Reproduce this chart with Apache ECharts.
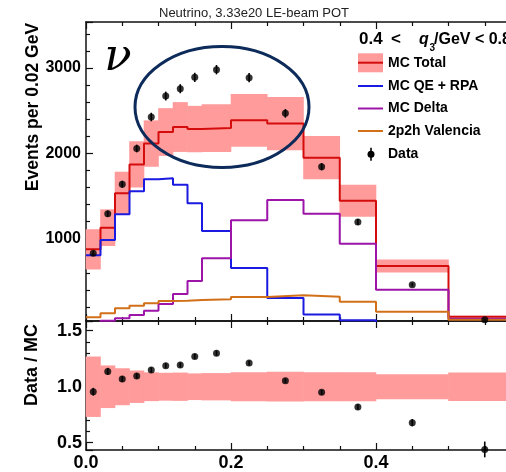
<!DOCTYPE html>
<html><head><meta charset="utf-8">
<script src="https://cdn.jsdelivr.net/npm/echarts@6/dist/echarts.min.js"></script>
<style>html,body{margin:0;padding:0;background:#fff}#c{width:506px;height:472px}</style>
</head><body><div id="c"></div>
<script>
// ---- data ----
const binEdges = [0, 0.02, 0.04, 0.06, 0.08, 0.10, 0.12, 0.14, 0.16, 0.20, 0.25, 0.30, 0.35, 0.40, 0.50, 0.60];
const mcTotal  = [875, 1129, 1532, 1871, 2115, 2250, 2309, 2285, 2297, 2387, 2350, 1950, 1445, 680, 86];
const mcErr    = [236, 215, 253, 271, 272, 280, 292, 272, 280, 308, 312, 254, 188, 76, 11];
const mcQE     = [805, 984, 1285, 1555, 1696, 1707, 1633, 1414, 1090, 656, 305, 112, 43, 0, 0];
const mcDelta  = [10, 39, 67, 105, 156, 234, 352, 504, 770, 1215, 1453, 1293, 941, 402, 62];
const mc2p2h   = [78, 125, 184, 215, 242, 270, 273, 280, 289, 316, 336, 320, 261, 144, 50];
const dataVals = [828, 1292, 1638, 2057, 2426, 2672, 2758, 2891, 2981, 2887, 2469, 1844, 1195, 461, 50];
const dataErr  = [30, 36, 40, 45, 50, 52, 53, 54, 55, 54, 50, 43, 35, 22, 8];
const ratioVals = [0.955, 1.137, 1.069, 1.096, 1.149, 1.188, 1.194, 1.271, 1.30, 1.212, 1.054, 0.95, 0.819, 0.679, 0.44];
const xTickLabels = ['0.0', '0.2', '0.4', '0.6'];
const titleText = 'Neutrino, 3.33e20 LE-beam POT';
const legendNames = ['MC Total', 'MC QE + RPA', 'MC Delta', '2p2h Valencia', 'Data'];

// ---- styles ----
const FONT = 'Liberation Sans';
const RED = '#d40c0c', PINK = '#ff9b9b', BLUE = '#1a1ae0', PURPLE = '#9c14a8', ORANGE = '#d2701a', NAVY = '#0d2b5a';
const AX = '#111';

const n = mcTotal.length;
const centers = [];
for (let i = 0; i < n; i++) centers.push((binEdges[i] + binEdges[i + 1]) / 2);

function stepData(vals) {
  const d = [];
  for (let i = 0; i < vals.length; i++) d.push([binEdges[i], vals[i]]);
  d.push([binEdges[vals.length], vals[vals.length - 1]]);
  return d;
}
const bandTop = [], bandRatio = [];
for (let i = 0; i < n; i++) {
  bandTop.push([binEdges[i], binEdges[i + 1], mcTotal[i] - mcErr[i], mcTotal[i] + mcErr[i]]);
  const rel = mcErr[i] / mcTotal[i];
  bandRatio.push([binEdges[i], binEdges[i + 1], 1 - rel, 1 + rel]);
}
const pts = [], ptsErr = [], rpts = [], rptsErr = [];
for (let i = 0; i < n; i++) {
  pts.push([centers[i], dataVals[i]]);
  ptsErr.push([centers[i], dataVals[i] - dataErr[i], dataVals[i] + dataErr[i]]);
  const re = ratioVals[i] * dataErr[i] / dataVals[i];
  rpts.push([centers[i], ratioVals[i]]);
  rptsErr.push([centers[i], ratioVals[i] - re, ratioVals[i] + re]);
}

function bandItem(params, api) {
  const p0 = api.coord([api.value(0), api.value(3)]);
  const p1 = api.coord([api.value(1), api.value(2)]);
  return { type: 'rect', shape: { x: p0[0] - 0.3, y: p0[1], width: p1[0] - p0[0] + 0.6, height: p1[1] - p0[1] },
           style: { fill: PINK } };
}
function errItem(params, api) {
  const a = api.coord([api.value(0), api.value(1)]);
  const b = api.coord([api.value(0), api.value(2)]);
  return { type: 'line', shape: { x1: a[0], y1: a[1], x2: b[0], y2: b[1] }, style: { stroke: '#000', lineWidth: 1.6 } };
}

function xAx(grid, pos, showLabel) {
  return {
    type: 'value', gridIndex: grid, position: pos, min: 0, max: 0.6, interval: 0.2,
    axisLine: { show: true, onZero: false, lineStyle: { color: AX, width: 1.5 } },
    axisTick: { show: true, inside: true, length: 7, lineStyle: { color: AX, width: 1.2 } },
    minorTick: { show: true, splitNumber: 4, length: 4, lineStyle: { color: AX, width: 1.2 } },
    axisLabel: { show: showLabel, margin: 4, fontFamily: FONT, fontWeight: 'bold', fontSize: 18, color: '#000',
                 formatter: v => xTickLabels[Math.round(v / 0.2)] || '' },
    splitLine: { show: false }, minorSplitLine: { show: false }
  };
}

function line(name, vals, color, xi, yi) {
  return { type: 'line', name, xAxisIndex: xi, yAxisIndex: yi, data: stepData(vals), step: 'end',
           showSymbol: false, symbol: 'none', lineStyle: { color, width: 2 }, itemStyle: { color }, z: 3, silent: true, animation: false };
}

const option = {
  animation: false,
  title: { text: titleText, left: 159, top: 7, padding: 0,
           textStyle: { fontFamily: FONT, fontWeight: 'normal', fontSize: 13, color: '#222' } },
  grid: [
    { left: 86, top: 22, width: 435, height: 299, outerBoundsMode: 'none', containLabel: false },
    { left: 86, top: 321, width: 435, height: 129, outerBoundsMode: 'none', containLabel: false }
  ],
  xAxis: [ xAx(0, 'bottom', false), xAx(0, 'top', false), xAx(1, 'bottom', true), xAx(1, 'top', false) ],
  yAxis: [
    { type: 'value', gridIndex: 0, min: 35, max: 3540, minInterval: 1000, maxInterval: 1000, splitNumber: 4,
      axisLine: { show: true, onZero: false, lineStyle: { color: AX, width: 1.5 } },
      axisTick: { show: true, inside: true, length: 7, lineStyle: { color: AX, width: 1.2 } },
      minorTick: { show: true, splitNumber: 5, length: 4, lineStyle: { color: AX, width: 1.2 } },
      axisLabel: { margin: 5, fontFamily: FONT, fontWeight: 'bold', fontSize: 16, color: '#000',
                   formatter: v => (Math.abs(v / 1000 - Math.round(v / 1000)) < 1e-6 ? String(Math.round(v)) : '') },
      splitLine: { show: false } },
    { type: 'value', gridIndex: 1, min: 0.435, max: 1.587, minInterval: 0.5, maxInterval: 0.5, splitNumber: 2,
      axisLine: { show: true, onZero: false, lineStyle: { color: AX, width: 1.5 } },
      axisTick: { show: true, inside: true, length: 7, lineStyle: { color: AX, width: 1.2 } },
      minorTick: { show: true, splitNumber: 5, length: 4, lineStyle: { color: AX, width: 1.2 } },
      axisLabel: { margin: 4, fontFamily: FONT, fontWeight: 'bold', fontSize: 18, color: '#000',
                   formatter: v => (Math.abs(v * 2 - Math.round(v * 2)) < 1e-6 ? v.toFixed(1) : '') },
      splitLine: { show: false } }
  ],
  series: [
    { type: 'custom', name: 'MC Total band', xAxisIndex: 0, yAxisIndex: 0, data: bandTop, renderItem: bandItem,
      encode: { x: [0, 1], y: [2, 3] }, z: 1, silent: true },
    line('MC Total', mcTotal, RED, 0, 0),
    line('MC QE + RPA', mcQE, BLUE, 0, 0),
    line('MC Delta', mcDelta, PURPLE, 0, 0),
    line('2p2h Valencia', mc2p2h, ORANGE, 0, 0),
    { type: 'custom', name: 'Data err', xAxisIndex: 0, yAxisIndex: 0, data: ptsErr, renderItem: errItem,
      encode: { x: 0, y: [1, 2] }, z: 4, silent: true },
    { type: 'scatter', name: 'Data', xAxisIndex: 0, yAxisIndex: 0, data: pts, symbol: 'circle', symbolSize: 7,
      itemStyle: { color: '#000' }, z: 5, silent: true },
    { type: 'custom', name: 'Ratio band', xAxisIndex: 2, yAxisIndex: 1, data: bandRatio, renderItem: bandItem,
      encode: { x: [0, 1], y: [2, 3] }, z: 1, silent: true },
    { type: 'custom', name: 'Ratio err', xAxisIndex: 2, yAxisIndex: 1, data: rptsErr, renderItem: errItem,
      encode: { x: 0, y: [1, 2] }, z: 4, silent: true },
    { type: 'scatter', name: 'Data / MC', xAxisIndex: 2, yAxisIndex: 1, data: rpts, symbol: 'circle', symbolSize: 7,
      itemStyle: { color: '#000' }, z: 5, silent: true }
  ],
  graphic: []
};

const G = option.graphic;
const tx = (text, x, y, extra) => Object.assign({ type: 'text', x, y, z: 100, silent: true,
  style: Object.assign({ text, fontFamily: FONT, fontWeight: 'bold', fontSize: 14, fill: '#000', align: 'left', verticalAlign: 'middle' }, extra || {}) });

// axis titles
G.push({ type: 'text', x: 33, y: 107, rotation: Math.PI / 2, z: 100, silent: true,
  style: { text: 'Events per 0.02 GeV', fontFamily: FONT, fontWeight: 'bold', fontSize: 17.5, fill: '#000', align: 'center', verticalAlign: 'middle' } });
G.push({ type: 'text', x: 32, y: 365, rotation: Math.PI / 2, z: 100, silent: true,
  style: { text: 'Data / MC', fontFamily: FONT, fontWeight: 'bold', fontSize: 18, fill: '#000', align: 'center', verticalAlign: 'middle' } });

// nu symbol
G.push({ type: 'text', x: 118, y: 58, z: 100, silent: true,
  style: { text: 'ν', fontFamily: 'DejaVu Serif', fontStyle: 'italic', fontSize: 45, fill: '#000', align: 'center', verticalAlign: 'middle' } });

// annotation ellipse
G.push({ type: 'ellipse', z: 100, silent: true, shape: { cx: 222, cy: 107, rx: 87, ry: 60.5 },
  style: { fill: null, stroke: NAVY, lineWidth: 3 } });

// legend header
G.push(tx('0.4', 359, 39.5, { fontSize: 17 }));
G.push(tx('<', 391, 39.5, { fontSize: 17 }));
G.push(tx('q', 419, 40, { fontSize: 16, fontStyle: 'italic' }));
G.push(tx('3', 429.5, 48, { fontSize: 10 }));
G.push(tx('/GeV < 0.8', 434, 39.5, { fontSize: 16 }));

// legend entries
const rowY = [62.7, 86, 108.5, 131, 154.3];
G.push({ type: 'rect', z: 100, silent: true, shape: { x: 358, y: 53.3, width: 25, height: 19 }, style: { fill: PINK } });
const symColors = [RED, BLUE, PURPLE, ORANGE];
for (let i = 0; i < 4; i++) {
  G.push({ type: 'line', z: 101, silent: true, shape: { x1: 358, y1: rowY[i], x2: 383, y2: rowY[i] }, style: { stroke: symColors[i], lineWidth: 2 } });
}
G.push({ type: 'line', z: 101, silent: true, shape: { x1: 371, y1: rowY[4] - 6.5, x2: 371, y2: rowY[4] + 6.5 }, style: { stroke: '#000', lineWidth: 1.6 } });
G.push({ type: 'circle', z: 101, silent: true, shape: { cx: 371, cy: rowY[4], r: 3.5 }, style: { fill: '#000' } });
for (let i = 0; i < 5; i++) G.push(tx(legendNames[i], 388, rowY[i]));

const chart = echarts.init(document.getElementById('c'), null, { renderer: 'canvas' });
chart.setOption(option);
</script>
</body></html>
